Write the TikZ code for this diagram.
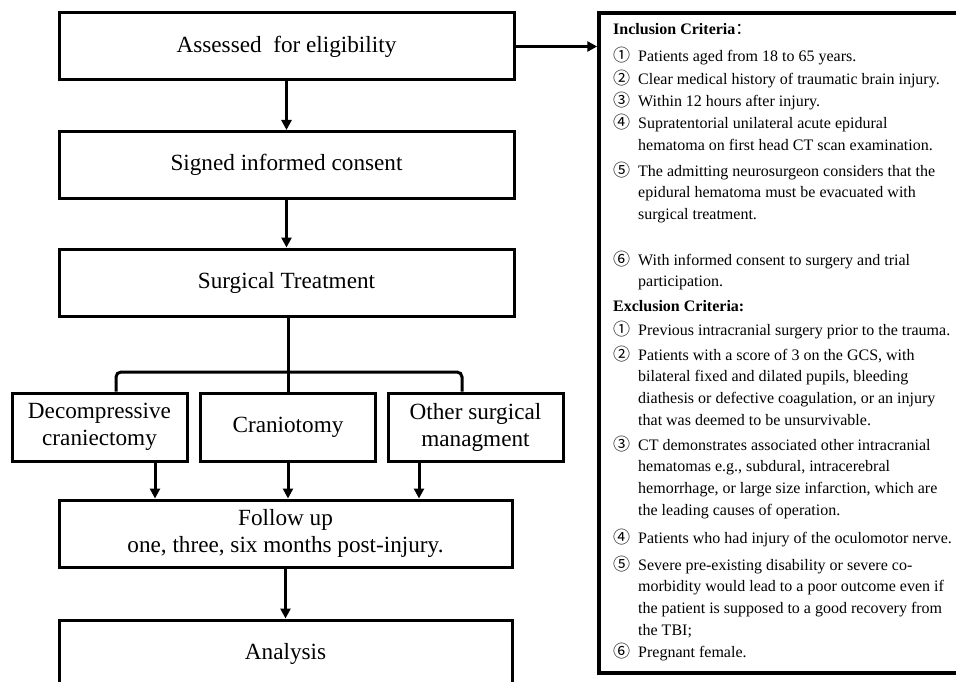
\documentclass[tikz,border=0pt]{standalone}
\usepackage{fontspec}
\setmainfont{Liberation Serif}
\newfontfamily\cjk{Noto Sans CJK SC}
\usetikzlibrary{arrows.meta}

\newcommand{\cnum}[1]{\makebox[25pt][l]{\cjk\fontsize{17}{21.7}\selectfont #1}}

\tikzset{
  stage/.style={draw, line width=3pt, minimum width=455pt, minimum height=67pt,
    inner sep=0pt, align=center, font=\fontsize{23.2}{27}\selectfont},
  option/.style={stage, minimum width=175pt, minimum height=68pt},
  panel/.style={draw, line width=3.5pt, minimum width=372pt, minimum height=660pt, inner sep=0pt},
  link/.style={line width=3pt},
  arr/.style={link, -{Triangle[length=10pt,width=10pt]}},
  crit/.style={anchor=base west, inner sep=0pt, font=\fontsize{16}{21.7}\selectfont},
}

\begin{document}
\begin{tikzpicture}[x=1pt,y=-1pt]
\useasboundingbox (0,0) rectangle (956,682);
\clip (0,0) rectangle (956,682);

% main column
\node[stage] (assess) at (286.5,46.5) {Assessed~ for eligibility};
\node[stage] (consent) at (286.5,165) {Signed informed consent};
\node[stage] (surg) at (286.5,282.5) {Surgical Treatment};
\node[option] (dec) at (99.5,427) {Decompressive\\craniectomy};
\node[option] (cran) at (288,427) {Craniotomy};
\node[option] (oth) at (475.5,427) {Other surgical\\managment};
\node[stage, minimum width=453pt] (follow) at (285.5,533.5) {Follow up\\one, three, six months post-injury.};
\node[stage, minimum width=453pt, minimum height=68pt] (anal) at (285.5,654) {Analysis};

\draw[arr] (assess) -- (consent);
\draw[arr] (consent) -- (surg);
\coordinate (split) at (288,372);
\draw[link] (surg.south -| cran.north) -- (cran.north);
\draw[link, rounded corners=5pt] ([xshift=16.5pt]dec.north) |- ([xshift=-13.5pt]oth.north |- split) -- ([xshift=-13.5pt]oth.north);
\draw[arr] ([xshift=55.5pt]dec.south) -- ([xshift=55.5pt]dec.south |- follow.north);
\draw[arr] (cran.south) -- (cran.south |- follow.north);
\draw[arr] ([xshift=-56.5pt]oth.south) -- ([xshift=-56.5pt]oth.south |- follow.north);
\draw[arr] (follow) -- (anal);

% criteria panel
\node[panel] (crit) at (785,343) {};
\draw[arr] (assess.east) -- (assess.east -| crit.west);

\node[crit] (inchead) at (613,35) {\textbf{Inclusion Criteria}{\cjk\mdseries ：}};
\node[crit] (inc1) at (613,62) {\cnum{①}Patients aged from 18 to 65 years.};
\node[crit] (inc2) at (613,85) {\cnum{②}Clear medical history of traumatic brain injury.};
\node[crit] (inc3) at (613,107) {\cnum{③}Within 12 hours after injury.};
\node[crit] (inc4) at (613,129) {\cnum{④}\parbox[t]{315pt}{Supratentorial unilateral acute epidural\\hematoma on first head CT scan examination.}};
\node[crit] (inc5) at (613,176) {\cnum{⑤}\parbox[t]{315pt}{The admitting neurosurgeon considers that the\\epidural hematoma must be evacuated with\\surgical treatment.}};
\node[crit] (inc6) at (613,265) {\cnum{⑥}\parbox[t]{315pt}{With informed consent to surgery and trial\\participation.}};

\node[crit] (exchead) at (613,311) {\textbf{Exclusion Criteria:}};
\node[crit] (exc1) at (613,335) {\cnum{①}Previous intracranial surgery prior to the trauma.};
\node[crit] (exc2) at (613,360) {\cnum{②}\parbox[t]{315pt}{Patients with a score of 3 on the GCS, with\\bilateral fixed and dilated pupils, bleeding\\diathesis or defective coagulation, or an injury\\that was deemed to be unsurvivable.}};
\node[crit] (exc3) at (613,450) {\cnum{③}\parbox[t]{315pt}{CT demonstrates associated other intracranial\\hematomas e.g., subdural, intracerebral\\hemorrhage, or large size infarction, which are\\the leading causes of operation.}};
\node[crit] (exc4) at (613,543) {\cnum{④}Patients who had injury of the oculomotor nerve.};
\node[crit] (exc5) at (613,570) {\cnum{⑤}\parbox[t]{315pt}{Severe pre-existing disability or severe co-\\morbidity would lead to a poor outcome even if\\the patient is supposed to a good recovery from\\the TBI;}};
\node[crit] (exc6) at (613,657) {\cnum{⑥}Pregnant female.};
\end{tikzpicture}
\end{document}
